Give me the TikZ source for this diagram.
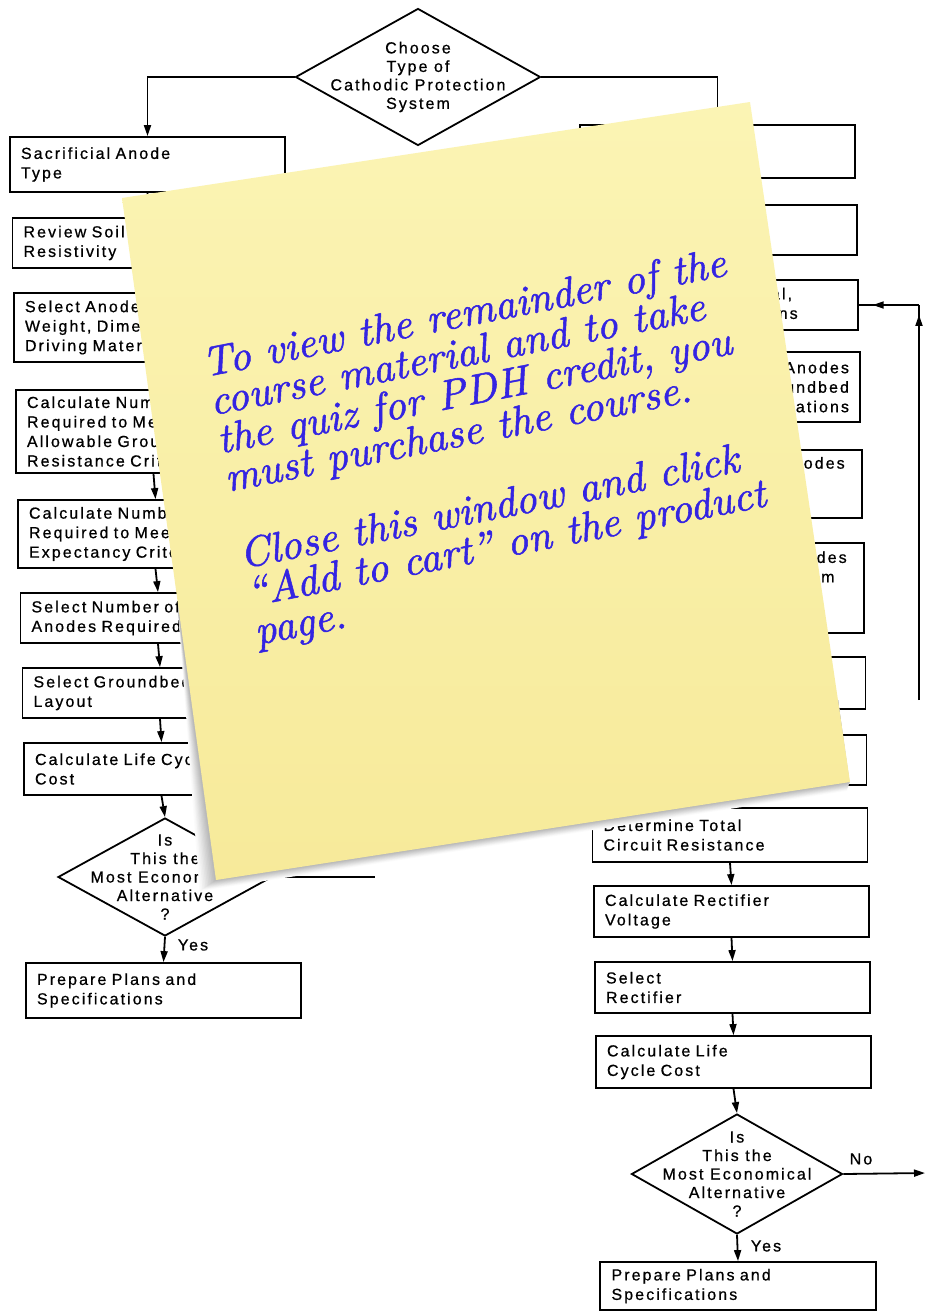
\documentclass[tikz,border=0pt]{standalone}
\usepackage{fontspec}
\newfontfamily\diagfont[LetterSpace=13,FakeBold=0.7]{Liberation Sans}
\newfontfamily\stickyfont[FakeBold=1.3]{lmroman10-italic.otf}
\usetikzlibrary{arrows.meta,shapes.geometric,decorations.markings}
\definecolor{inkblue}{RGB}{52,36,226}
\definecolor{noteA}{RGB}{251,244,180}
\definecolor{noteB}{RGB}{247,234,154}
\begin{document}
\begin{tikzpicture}[x=1pt,y=-1pt,
  txt/.style={font=\diagfont\fontsize{16}{19.5}\selectfont},
  bx/.style={draw, line width=1.8pt, rectangle, minimum width=275pt, text width=253pt,
             inner xsep=11pt, inner ysep=0pt, align=left, txt},
  bxr/.style={bx, align=right},
  dia/.style={draw, line width=1.8pt, diamond, inner sep=0pt},
  dtxt/.style={align=center, inner sep=0pt, font=\diagfont\fontsize{16}{18.5}\selectfont},
  ln/.style={line width=1.8pt},
  arr/.style={ln, -{Triangle[length=11pt,width=7pt]}},
  midarr/.style={ln, postaction={decorate},
     decoration={markings, mark=at position #1 with {\arrow{Triangle[length=11pt,width=7pt]}}}},
  lbl/.style={txt, inner sep=0pt},
  stk/.style={font=\stickyfont\fontsize{42}{42}\selectfont, text=inkblue, inner sep=0pt, anchor=base west}
]
\useasboundingbox (0,0) rectangle (925,1312);
\fill[white] (0,0) rectangle (925,1312);

% ---------- top decision ----------
\node[dia, minimum width=245pt, minimum height=137pt] (D0) at (418,77) {};
\node[dtxt] (D0t) at (D0.center) {Choose\\Type of\\Cathodic Protection\\System};

% ---------- left column ----------
\node[bx, minimum height=55pt] (L1) at (147.5,164.5) {Sacrificial Anode\\Type};
\node[bx, minimum height=50pt] (L2) at (150,243) {Review Soil\\Resistivity};
\node[bx, minimum height=69pt] (L3) at (151.5,327.5) {Select Anode Material,\\Weight, Dimensions and\\Driving Material};
\node[bx, minimum height=83pt] (L4) at (153.5,431.5) {Calculate Number of Anodes\\Required to Meet Maximum\\Allowable Groundbed\\Resistance Criteria};
\node[bx, minimum height=68pt] (L5) at (155.5,534) {Calculate Number of Anodes\\Required to Meet Life\\Expectancy Criteria};
\node[bx, minimum height=50pt] (L6) at (158,618) {Select Number of\\Anodes Required};
\node[bx, minimum height=50pt] (L7) at (160,693) {Select Groundbed\\Layout};
\node[bx, minimum height=52pt] (L8) at (161.5,769) {Calculate Life Cycle\\Cost};
\node[dia, minimum width=214pt, minimum height=118pt] (LD) at (165,877) {};
\node[dtxt] (LDt) at (LD.center) {Is\\This the\\Most Economical\\Alternative\\?};
\node[bx, minimum height=55pt, minimum width=273pt] (L9) at (163.5,990.5) {Prepare Plans and\\Specifications};
\coordinate (lno) at (375,877);

% ---------- right column ----------
\node[bx, minimum height=53pt] (R1) at (717.5,151.5) {Impressed Current\\Type};
\node[bx, minimum height=50pt] (R2) at (719.5,230) {Review Soil\\Resistivity};
\node[bx, minimum height=50pt] (R3) at (720.5,305) {Select Anode Material,\\Weight and Dimensions};
\node[bxr, minimum height=70pt] (R4) at (722.5,387) {Calculate Number of Anodes\\Required to Meet Groundbed\\Resistance Limitations};
\node[bx, minimum height=68pt] (R5) at (724.5,484) {Calculate Number of Anodes\\Required to Meet Life\\Expectancy Criteria};
\node[bx, minimum height=90pt] (R6) at (726.5,588) {Calculate Number of Anodes\\Required to Meet Maximum\\Anode Current Density\\Requirements};
\node[bx, minimum height=52pt] (R7) at (728,683) {Select Number of\\Anodes Required};
\node[bx, minimum height=50pt] (R8) at (729,760) {Select Groundbed\\Layout};
\node[bx, minimum height=54pt] (R9) at (730,835) {Determine Total\\Circuit Resistance};
\node[bx, minimum height=51pt] (R10) at (731.5,911.5) {Calculate Rectifier\\Voltage};
\node[bx, minimum height=51pt] (R11) at (732.5,987.5) {Select\\Rectifier};
\node[bx, minimum height=52pt] (R12) at (733.5,1062) {Calculate Life\\Cycle Cost};
\node[dia, minimum width=211pt, minimum height=120pt] (RD) at (737,1174) {};
\node[dtxt] (RDt) at (RD.center) {Is\\This the\\Most Economical\\Alternative\\?};
\node[bx, minimum height=48pt, minimum width=276pt] (R13) at (738,1286) {Prepare Plans and\\Specifications};
\coordinate (rno) at (925,1173);
\coordinate (fbB) at (919,700);
\coordinate (fbT) at (919,305);

% ---------- connectors ----------
\draw[arr] (D0.west) -| (L1.north);
\draw[arr] (D0.east) -| (R1.north);
\foreach \a/\b in {L1/L2,L2/L3,L3/L4,L4/L5,L5/L6,L6/L7,L7/L8,L8/LD,
                   R1/R2,R2/R3,R3/R4,R4/R5,R5/R6,R6/R7,R7/R8,R8/R9,R9/R10,R10/R11,R11/R12,R12/RD}
  \draw[arr] (\a.south) -- (\b.north);
\draw[arr] (LD.south) -- (L9.north);
\node[lbl] (ly) at (193,945) {Yes};
\draw[ln] (LD.east) -- (lno);
\draw[arr] (RD.south) -- (R13.north);
\node[lbl] (ry) at (766,1246) {Yes};
\draw[arr] (RD.east) -- (rno);
\node[lbl] (rn) at (861,1159) {No};
\draw[midarr=0.975] (fbB) -- (fbT);
\draw[midarr=0.77] (fbT) -- (R3.east);

% ---------- sticky note ----------
\coordinate (nTL) at (122,198);
\coordinate (nTR) at (750,102);
\coordinate (nBR) at (850,782);
\coordinate (nBL) at (216,880);
\foreach \i in {11,10,...,1}{
  \pgfmathsetmacro{\k}{max(1.5,30-2.7*\i)}
  \fill[black!\k!white]
    (178, 610) -- (838, 700) -- (850-\i*0.3, 782+\i*0.8)
    -- (216-\i*1.5, 880+\i*1.0) -- cycle;
}
\shade[top color=noteA, bottom color=noteB] (nTL) -- (nTR) -- (nBR) -- (nBL) -- cycle;

\begin{scope}[shift={(205,377)}, rotate=11, transform shape]
  \node[stk] (s1) at (0,0)   {To view the remainder of the};
  \node[stk] (s2) at (0,39)  {course material and to take};
  \node[stk] (s3) at (0,78)  {the quiz for PDH credit, you};
  \node[stk] (s4) at (0,117) {must purchase the course.};
  \node[stk] (s5) at (0,195) {Close this window and click};
  \node[stk] (s6) at (0,234) {“Add to cart” on the product};
  \node[stk] (s7) at (0,273) {page.};
\end{scope}
\end{tikzpicture}
\end{document}
